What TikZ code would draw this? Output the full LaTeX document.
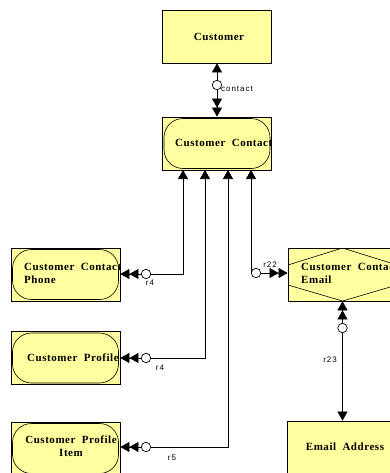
\documentclass[tikz,border=0pt]{standalone}
\usepackage{fontspec}
\setmainfont{Liberation Serif}
\newfontfamily\boxfont[LetterSpace=5]{Liberation Serif}
\newfontfamily\lblfont[LetterSpace=12]{Liberation Sans}
\usetikzlibrary{arrows.meta,calc}
\definecolor{entyellow}{HTML}{FFFFA0}
\tikzset{
  ent/.style={draw=black, line width=0.8pt, fill=entyellow, minimum width=109pt, minimum height=53pt, inner sep=0pt},
  dep/.style={path picture={\draw[line width=0.6pt, rounded corners=19pt]
      ($(path picture bounding box.north west)+(1.5,1.5)$) rectangle ($(path picture bounding box.south east)+(-1.5,-1.5)$);}},
  hexa/.style={path picture={\draw[line width=0.6pt]
      ($(path picture bounding box.north west)+(0,17)$) -- (path picture bounding box.north) -- ($(path picture bounding box.north east)+(0,17)$)
      ($(path picture bounding box.south west)+(0,-16)$) -- (path picture bounding box.south) -- ($(path picture bounding box.south east)+(0,-16)$);}},
  txt/.style={font=\boxfont\bfseries\fontsize{11}{13}\selectfont, inner sep=0pt},
  lbl/.style={font=\lblfont\fontsize{8}{9.5}\selectfont, inner sep=0pt},
  ring/.style={circle, draw=black, line width=0.7pt, fill=white, minimum size=9.5pt, inner sep=0pt},
  conn/.style={line width=0.7pt},
  one/.style={-{Triangle[length=9pt,width=10pt]}},
  two/.style={-{Triangle[length=9pt,width=10pt,sep=0pt]Triangle[length=9pt,width=10pt]}}
}
\begin{document}
\begin{tikzpicture}[x=1pt,y=-1pt]
\useasboundingbox (0,0) rectangle (389,473);
% entities
\node[ent] (cust) at (217,36.5) {};
\node[ent,dep] (cc) at (217,143.5) {};
\node[ent,dep] (phone) at (65.5,274.5) {};
\node[ent,dep] (prof) at (65.5,358) {};
\node[ent,dep] (item) at (65.5,448.5) {};
\node[ent,hexa] (email) at (342.5,274.5) {};
\node[ent] (addr) at (341.5,447.5) {};
% texts
\node[txt] (tcust) at (219,37) {Customer};
\node[txt,anchor=west] (tcc) at (175,143) {Customer\hspace{3pt} Contact};
\node[txt,anchor=west,align=left] (tphone) at (24,273.5) {Customer\hspace{3pt} Contact\\Phone};
\node[txt,anchor=west] (tprof) at (27,358) {Customer\hspace{3pt} Profile};
\node[txt,align=center] (titem) at (71,446) {Customer\hspace{3pt} Profile\\Item};
\node[txt,anchor=west,align=left] (temail) at (301,273.5) {Customer\hspace{3pt} Contact\\Email};
\node[txt] (taddr) at (345,447) {Email\hspace{3pt} Address};
% attachment points on Customer Contact
\coordinate (b1) at (183,170);
\coordinate (b2) at (205,170);
\coordinate (b3) at (228,170);
\coordinate (b4) at (251,170);
% rings
\node[ring] (r0) at (217,85) {};
\node[ring] (r1) at (146,274) {};
\node[ring] (r2) at (146,358) {};
\node[ring] (r3) at (146,447) {};
\node[ring] (r5) at (256,273) {};
\node[ring] (r6) at (342.5,328) {};
% connectors
\draw[conn,one] (r0) -- (cust);
\draw[conn,two] (r0) -- (cc);
\draw[conn,two] (r1) -- (r1 -| phone.east);
\draw[conn,one] (r1) -| (b1);
\draw[conn,two] (r2) -- (r2 -| prof.east);
\draw[conn,one] (r2) -| (b2);
\draw[conn,two] (r3) -- (r3 -| item.east);
\draw[conn,one] (r3) -| (b3);
\draw[conn,two] (r5) -- (r5 -| email.west);
\draw[conn,one] (r5) -| (b4);
\draw[conn,two] (r6) -- (r6 |- email.south);
\draw[conn,one] (r6) -- (r6 |- addr.north);
% labels
\node[lbl,anchor=west] (lcontact) at (221,89) {contact};
\node[lbl] (l1) at (150,283) {r4};
\node[lbl] (l2) at (160,368) {r4};
\node[lbl] (l3) at (172,458) {r5};
\node[lbl] (l5) at (270,265) {r22};
\node[lbl] (l6) at (330,360) {r23};
\end{tikzpicture}
\end{document}
